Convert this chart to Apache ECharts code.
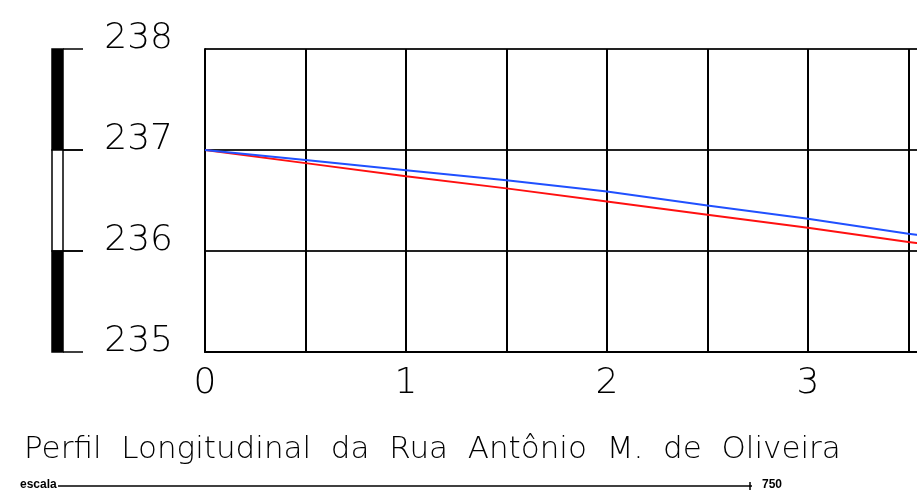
<!DOCTYPE html>
<html><head><meta charset="utf-8">
<script src="https://cdn.jsdelivr.net/npm/echarts@6/dist/echarts.min.js"></script>
<style>html,body{margin:0;padding:0;background:#fff;overflow:hidden}#c{width:923px;height:495px}</style>
</head><body><div id="c"></div>
<script>
// Data
const titleText = 'Perfil  Longitudinal  da  Rua  Antônio  M.  de  Oliveira';
const blueX = [0, 0.5, 1, 1.5, 2, 2.5, 3, 3.5, 3.56];
const blueY = [237, 236.90, 236.80, 236.70, 236.59, 236.45, 236.32, 236.17, 236.155];
const redX  = [0, 0.5, 1, 1.5, 2, 2.5, 3, 3.5, 3.56];
const redY  = [237, 236.87, 236.74, 236.62, 236.49, 236.36, 236.23, 236.09, 236.075];
const scaleBands = [[238, 237, 'black'], [237, 236, 'white'], [236, 235, 'black']];
const scaleLabel = '750';

const FONT = 'DejaVu Sans';
const chart = echarts.init(document.getElementById('c'), null, {renderer: 'canvas'});
chart.setOption({
  animation: false,
  backgroundColor: '#fff',
  title: {
    text: titleText, left: 19, top: 429,
    textStyle: {fontFamily: FONT, fontWeight: 200, fontSize: 31, color: '#000'}
  },
  grid: {left: 205, right: 0, top: 49, bottom: 143, containLabel: false},
  xAxis: {
    type: 'value', min: 0, max: 3.558, interval: 0.5,
    axisLine: {show: true, lineStyle: {color: '#000', width: 2}},
    axisTick: {show: false},
    splitLine: {show: true, lineStyle: {color: '#000', width: 2}},
    axisLabel: {
      margin: 14, fontFamily: FONT, fontWeight: 200, fontSize: 36, color: '#000',
      formatter: v => (Math.abs(v - Math.round(v)) < 1e-6 ? String(Math.round(v)) : '')
    }
  },
  yAxis: {
    type: 'value', min: 235, max: 238, interval: 1,
    axisLine: {show: true, lineStyle: {color: '#000', width: 2}},
    axisTick: {show: false},
    splitLine: {show: true, lineStyle: {color: '#222', width: 2}},
    axisLabel: {
      margin: 32, fontFamily: FONT, fontWeight: 200, fontSize: 36, color: '#000',
      verticalAlign: 'bottom', lineHeight: 20
    }
  },
  series: [
    {
      type: 'custom', clip: false, silent: true,
      data: scaleBands,
      renderItem: function (params, api) {
        const top = api.coord([0, api.value(0)]);
        const bot = api.coord([0, api.value(1)]);
        const x = top[0] - 153;
        return {
          type: 'group',
          children: [
            {type: 'rect', shape: {x: x, y: top[1], width: 11, height: bot[1] - top[1]},
             style: {fill: scaleBands[params.dataIndex][2], stroke: '#000', lineWidth: 1.5}},
            {type: 'line', shape: {x1: x + 11, y1: top[1], x2: x + 31, y2: top[1]},
             style: {stroke: '#000', lineWidth: 1.5}},
            {type: 'line', shape: {x1: x + 11, y1: bot[1], x2: x + 31, y2: bot[1]},
             style: {stroke: '#000', lineWidth: 1.5}}
          ]
        };
      }
    },
    {
      type: 'line', data: blueX.map((x, i) => [x, blueY[i]]), showSymbol: false,
      lineStyle: {color: '#2050ff', width: 2}, z: 5
    },
    {
      type: 'line', data: redX.map((x, i) => [x, redY[i]]), showSymbol: false,
      lineStyle: {color: '#ff1010', width: 2}, z: 4
    }
  ],
  graphic: [
    {type: 'text', left: 20, top: 479, style: {text: 'escala', fontFamily: 'Liberation Sans', fontWeight: 'bold', fontSize: 12, fill: '#000'}},
    {type: 'line', shape: {x1: 58, y1: 486, x2: 752, y2: 486}, style: {stroke: '#000', lineWidth: 1.5}},
    {type: 'line', shape: {x1: 750, y1: 482, x2: 750, y2: 490}, style: {stroke: '#000', lineWidth: 1.5}},
    {type: 'text', left: 762, top: 479, style: {text: scaleLabel, fontFamily: 'Liberation Sans', fontWeight: 'bold', fontSize: 12, fill: '#000'}}
  ]
});
</script></body></html>
